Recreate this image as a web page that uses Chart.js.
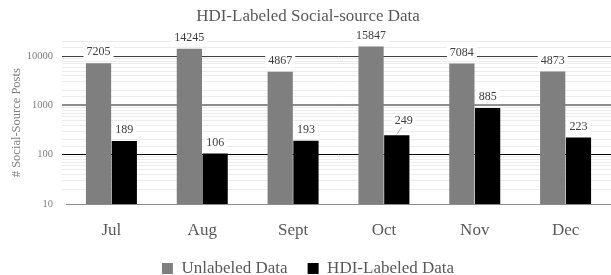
<!DOCTYPE html>
<html>
<head>
<meta charset="utf-8">
<script src="https://cdn.jsdelivr.net/npm/chart.js@4.4.0/dist/chart.umd.min.js"></script>
<style>
html,body{margin:0;padding:0;background:#fff;}
#wrap{width:611px;height:275px;position:relative;}
</style>
</head>
<body>
<div id="wrap"><canvas id="c" width="611" height="275"></canvas></div>
<script>
const categories = ['Jul','Aug','Sept','Oct','Nov','Dec'];
const unlabeled = [7205, 14245, 4867, 15847, 7084, 4873];
const hdiLabeled = [189, 106, 193, 249, 885, 223];
const seriesNames = ['Unlabeled Data','HDI-Labeled Data'];
const yTickLabels = [10, 100, 1000, 10000];

const FONT = "'Liberation Serif', serif";

const labelPlugin = {
  id: 'barLabels',
  afterDatasetsDraw(chart) {
    const ctx = chart.ctx;
    ctx.save();
    ctx.font = "12px " + FONT;
    ctx.textAlign = 'center';
    ctx.textBaseline = 'middle';
    chart.data.datasets.forEach((ds, di) => {
      const meta = chart.getDatasetMeta(di);
      meta.data.forEach((bar, i) => {
        const txt = String(ds.data[i]);
        let x = bar.x, y = bar.y - 11;
        const callout = (di === 1 && i === 3);
        if (callout) { x += 7; y -= 3; }
        const w = ctx.measureText(txt).width + 6;
        ctx.fillStyle = '#fff';
        ctx.fillRect(x - w/2, y - 7, w, 14);
        if (callout) {
          ctx.strokeStyle = '#a6a6a6';
          ctx.lineWidth = 1;
          ctx.beginPath();
          ctx.moveTo(bar.x, bar.y - 1);
          ctx.lineTo(x - 2, y + 6);
          ctx.stroke();
        }
        ctx.fillStyle = '#404040';
        ctx.fillText(txt, x, y);
      });
    });
    ctx.restore();
  }
};

function gridColor(c) {
  const v = c.tick ? c.tick.value : null;
  if (v === 100) return '#000000';
  if (v === 1000) return '#8c8c8c';
  if (v === 10000) return '#404040';
  if (v === 10) return 'rgba(0,0,0,0)';
  return '#ececec';
}
function gridWidth(c) {
  const v = c.tick ? c.tick.value : null;
  if (v === 1000) return 2;
  return 1;
}

new Chart(document.getElementById('c'), {
  type: 'bar',
  data: {
    labels: categories,
    datasets: [
      { label: seriesNames[0], data: unlabeled, backgroundColor: '#7f7f7f', borderWidth: 0,
        categoryPercentage: 0.567, barPercentage: 0.98 },
      { label: seriesNames[1], data: hdiLabeled, backgroundColor: '#000000', borderWidth: 0,
        categoryPercentage: 0.567, barPercentage: 0.98 }
    ]
  },
  options: {
    responsive: false,
    animation: false,
    devicePixelRatio: 1,
    layout: { padding: { left: 0, right: -5, top: 0, bottom: -12 } },
    plugins: {
      title: { display: true, text: 'HDI-Labeled Social-source Data', color: '#595959',
        font: { family: FONT, size: 17, weight: 'normal' }, padding: { top: 6, bottom: 15 } },
      legend: { position: 'bottom', labels: { color: '#595959', boxWidth: 11, boxHeight: 11,
        font: { family: FONT, size: 17 }, padding: 20 } },
      tooltip: { enabled: false }
    },
    scales: {
      x: {
        grid: { display: false, drawTicks: false, tickLength: 0 },
        border: { color: '#8c8c8c', width: 1 },
        afterFit: (s) => { s.height = 36; },
        ticks: { color: '#595959', font: { family: FONT, size: 17 }, padding: 16 }
      },
      y: {
        type: 'logarithmic',
        min: 10, max: 20000,
        border: { display: false },
        afterFit: (s) => { s.width = 66; },
        grid: { color: gridColor, lineWidth: gridWidth, tickLength: 4, drawTicks: true },
        ticks: {
          color: '#7f7f7f', font: { family: FONT, size: 10.5 }, padding: 9, autoSkip: false,
          callback: (v) => yTickLabels.includes(v) ? String(v) : ''
        },
        title: { display: true, text: '# Social-Source Posts', color: '#7f7f7f',
          font: { family: FONT, size: 12.5 }, padding: { top: 9, bottom: 4 } }
      }
    }
  },
  plugins: [labelPlugin]
});
</script>
</body>
</html>
